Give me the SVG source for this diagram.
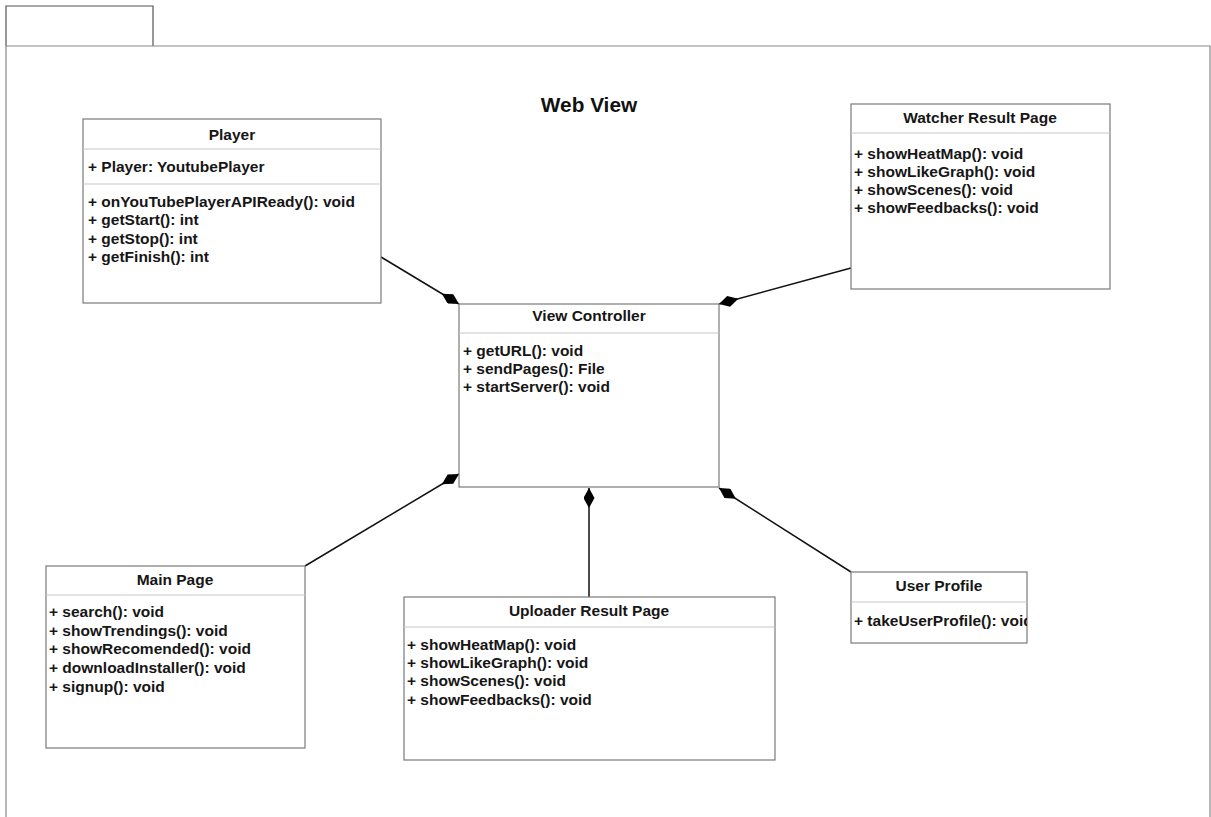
<svg xmlns="http://www.w3.org/2000/svg" width="1211" height="817" viewBox="0 0 1211 817">
  <style>
    .box { fill: #ffffff; stroke: #7a7a7a; stroke-width: 1.2; }
    .sep { stroke: #c8c8c8; stroke-width: 1.2; }
    .head { font-family: "Liberation Sans", Arial, sans-serif; font-size: 15.5px; font-weight: bold; fill: #161616; text-anchor: middle; }
    .mem { font-family: "Liberation Sans", Arial, sans-serif; font-size: 15.5px; font-weight: bold; fill: #161616; }
    .title { font-family: "Liberation Sans", Arial, sans-serif; font-size: 20.8px; font-weight: bold; fill: #111; text-anchor: middle; }
    .link { stroke: #111; stroke-width: 1.5; fill: none; marker-end: url(#diamond); }
  </style>
  <defs>
    <marker id="diamond" viewBox="0 0 20 11" refX="20" refY="5.5" markerWidth="20" markerHeight="11" markerUnits="userSpaceOnUse" orient="auto">
      <path d="M0,5.5 L10,0 L20,5.5 L10,11 Z" fill="#000"/>
    </marker>
    <clipPath id="clipUser">
      <rect x="851" y="602" width="176" height="41"/>
    </clipPath>
  </defs>

  <rect width="1211" height="817" fill="#ffffff"/>

  <!-- package frame -->
  <g id="package">
    <path d="M6,46 V6 H153 V46" fill="none" stroke="#555" stroke-width="1.2"/>
    <path d="M6,817 V46 H1210 V817" fill="none" stroke="#888" stroke-width="1.2"/>
    <text class="title" x="589" y="112">Web View</text>
  </g>

  <!-- composition connectors -->
  <g id="connectors">
    <line class="link" x1="381" y1="257" x2="459" y2="304"/>
    <line class="link" x1="851" y1="268" x2="719" y2="304"/>
    <line class="link" x1="305" y1="566" x2="459" y2="474"/>
    <line class="link" x1="589" y1="597" x2="589" y2="488"/>
    <line class="link" x1="851" y1="572" x2="719" y2="488"/>
  </g>

  <g id="player">
    <rect class="box" x="83" y="119" width="298" height="184"/>
    <line class="sep" x1="83" y1="149" x2="381" y2="149"/>
    <line class="sep" x1="83" y1="184" x2="381" y2="184"/>
    <text class="head" x="232" y="140">Player</text>
    <text class="mem" x="88" y="172">+ Player: YoutubePlayer</text>
    <text class="mem" x="88" y="207">+ onYouTubePlayerAPIReady(): void</text>
    <text class="mem" x="88" y="225">+ getStart(): int</text>
    <text class="mem" x="88" y="244">+ getStop(): int</text>
    <text class="mem" x="88" y="262">+ getFinish(): int</text>
  </g>

  <g id="view-controller">
    <rect class="box" x="459" y="304" width="260" height="183"/>
    <line class="sep" x1="459" y1="333" x2="719" y2="333"/>
    <text class="head" x="589" y="321">View Controller</text>
    <text class="mem" x="463" y="356">+ getURL(): void</text>
    <text class="mem" x="463" y="374">+ sendPages(): File</text>
    <text class="mem" x="463" y="392">+ startServer(): void</text>
  </g>

  <g id="watcher-result-page">
    <rect class="box" x="851" y="104" width="259" height="185"/>
    <line class="sep" x1="851" y1="133" x2="1110" y2="133"/>
    <text class="head" x="980" y="123">Watcher Result Page</text>
    <text class="mem" x="854" y="159">+ showHeatMap(): void</text>
    <text class="mem" x="854" y="177">+ showLikeGraph(): void</text>
    <text class="mem" x="854" y="195">+ showScenes(): void</text>
    <text class="mem" x="854" y="213">+ showFeedbacks(): void</text>
  </g>

  <g id="main-page">
    <rect class="box" x="46" y="566" width="259" height="182"/>
    <line class="sep" x1="46" y1="595" x2="305" y2="595"/>
    <text class="head" x="175" y="585">Main Page</text>
    <text class="mem" x="49" y="617">+ search(): void</text>
    <text class="mem" x="49" y="636">+ showTrendings(): void</text>
    <text class="mem" x="49" y="654">+ showRecomended(): void</text>
    <text class="mem" x="49" y="673">+ downloadInstaller(): void</text>
    <text class="mem" x="49" y="692">+ signup(): void</text>
  </g>

  <g id="uploader-result-page">
    <rect class="box" x="404" y="597" width="371" height="163"/>
    <line class="sep" x1="404" y1="627" x2="775" y2="627"/>
    <text class="head" x="589" y="616">Uploader Result Page</text>
    <text class="mem" x="407" y="650">+ showHeatMap(): void</text>
    <text class="mem" x="407" y="668">+ showLikeGraph(): void</text>
    <text class="mem" x="407" y="686">+ showScenes(): void</text>
    <text class="mem" x="407" y="705">+ showFeedbacks(): void</text>
  </g>

  <g id="user-profile">
    <rect class="box" x="851" y="572" width="176" height="71"/>
    <line class="sep" x1="851" y1="602" x2="1027" y2="602"/>
    <text class="head" x="939" y="591">User Profile</text>
    <text class="mem" x="854" y="626" clip-path="url(#clipUser)">+ takeUserProfile(): void</text>
  </g>
</svg>
